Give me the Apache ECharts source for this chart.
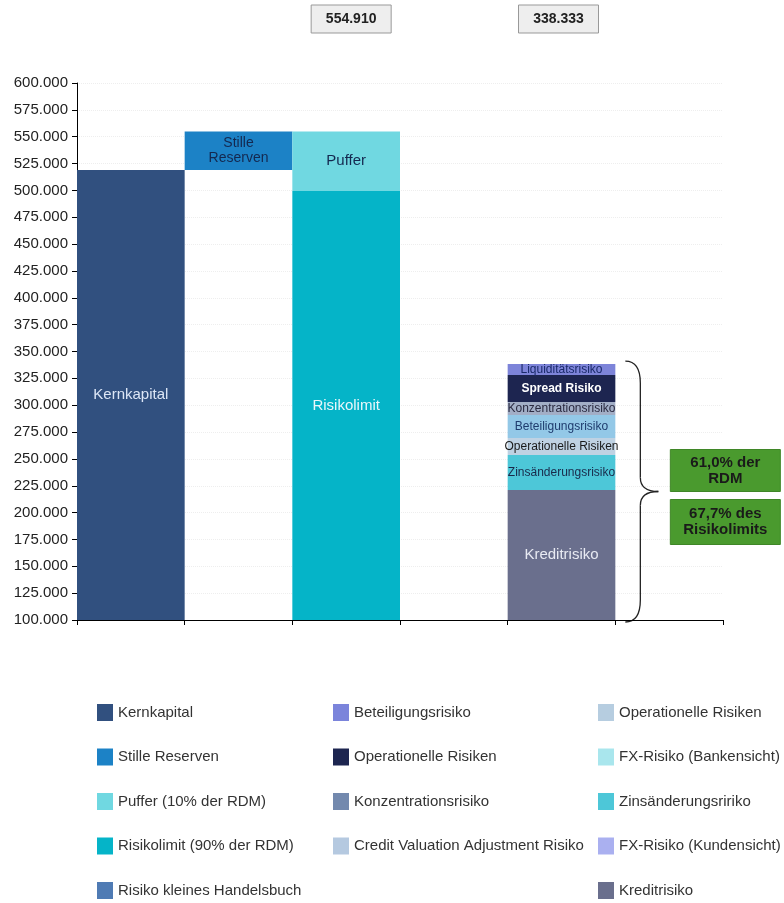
<!DOCTYPE html>
<html>
<head>
<meta charset="utf-8">
<script src="https://cdn.jsdelivr.net/npm/echarts@6/dist/echarts.min.js"></script>
<style>
html,body{margin:0;padding:0;background:#fff;}
#chart{width:784px;height:903px;}
</style>
</head>
<body>
<div id="chart"></div>
<script>
// ---- data ----
const categories = ['Kernkapital', 'Stille Reserven', 'RDM', 'Leer 1', 'Risiko', 'Leer 2'];
const yTicks = { min: 100000, max: 600000, interval: 25000 };

const kernkapital = 519000;
const stilleReserven = 35910;
const risikolimit = 499419;
const puffer = 55491;

// stacked risk bar (bottom to top)
const riskSeriesNames = ['Kreditrisiko', 'Zinsänderungsririko', 'Operationelle Risiken', 'Beteiligungsrisiko', 'Konzentrationsrisiko', 'Operationelle Risiken\u200b', 'Liquiditätsrisiko'];
const riskValues = [221000, 32600, 15900, 21400, 12100, 25100, 10233];
const riskLabels = ['Kreditrisiko', 'Zinsänderungsrisiko', 'Operationelle Risiken', 'Beteiligungsrisiko', 'Konzentrationsrisiko', 'Spread Risiko', 'Liquiditätsrisiko'];

const emptySeriesNames = ['Risiko kleines Handelsbuch', 'Credit Valuation Adjustment Risiko', 'FX-Risiko (Bankensicht)', 'FX-Risiko (Kundensicht)'];

const legendCol1 = ['Kernkapital', 'Stille Reserven', 'Puffer (10% der RDM)', 'Risikolimit (90% der RDM)', 'Risiko kleines Handelsbuch'];
const legendCol2 = ['Beteiligungsrisiko', 'Operationelle Risiken\u200b', 'Konzentrationsrisiko', 'Credit Valuation Adjustment Risiko'];
const legendCol3 = ['Operationelle Risiken', 'FX-Risiko (Bankensicht)', 'Zinsänderungsririko', 'FX-Risiko (Kundensicht)', 'Kreditrisiko'];

// ---- styles ----
const seriesColors = {
  'Kernkapital': '#31507f',
  'Stille Reserven': '#1c82c6',
  'Puffer (10% der RDM)': '#70d8e1',
  'Risikolimit (90% der RDM)': '#05b4c8',
  'Risiko kleines Handelsbuch': '#4f7bb4',
  'Beteiligungsrisiko': '#7b84db',
  'Operationelle Risiken\u200b': '#1d2550',
  'Konzentrationsrisiko': '#7389ae',
  'Credit Valuation Adjustment Risiko': '#b5c9e0',
  'Operationelle Risiken': '#b6cde0',
  'FX-Risiko (Bankensicht)': '#a9e6ed',
  'Zinsänderungsririko': '#4dc7d8',
  'FX-Risiko (Kundensicht)': '#aab0f0',
  'Kreditrisiko': '#6a6f8d',
  'Liquiditätsrisiko': '#7d84d9'
};
const segmentColors = ['#6a6f8d', '#4dc7d8', '#bfd2e3', '#93c8e7', '#a2aec6', '#1d2550', '#7d84d9'];
const segmentLabelStyle = [
  { color: '#e8eaf2', fontSize: 15 },
  { color: '#1a2a4a', fontSize: 12 },
  { color: '#1a1a1a', fontSize: 12 },
  { color: '#1f3c6e', fontSize: 12 },
  { color: '#2a2a40', fontSize: 12 },
  { color: '#ffffff', fontSize: 12, fontWeight: 'bold' },
  { color: '#1a2a6a', fontSize: 12 }
];

const FONT = '"Liberation Sans", Arial, sans-serif';

function at(idx, v) {
  return categories.map((c, i) => (i === idx ? v : '-'));
}

function barSeries(name, data, label, extra) {
  return Object.assign({
    name: name,
    type: 'bar',
    stack: 'all',
    barCategoryGap: 0,
    barGap: 0,
    data: data,
    itemStyle: { color: seriesColors[name] || '#999' },
    label: label ? Object.assign({ show: true, position: 'inside', fontFamily: FONT }, label) : { show: false },
    emphasis: { disabled: true }
  }, extra || {});
}

const series = [];
series.push(barSeries('__base', at(1, kernkapital), null, { itemStyle: { color: 'transparent' }, silent: true }));
series.push(barSeries('Kernkapital', at(0, kernkapital), { formatter: 'Kernkapital', color: '#dce6f6', fontSize: 15 }));
series.push(barSeries('Stille Reserven', at(1, stilleReserven), { formatter: 'Stille\nReserven', color: '#14284f', fontSize: 14, lineHeight: 15 }));
series.push(barSeries('Risikolimit (90% der RDM)', at(2, risikolimit), { formatter: 'Risikolimit', color: '#eaf7fb', fontSize: 15 }));
series.push(barSeries('Puffer (10% der RDM)', at(2, puffer), { formatter: 'Puffer', color: '#14284f', fontSize: 15 }));
riskSeriesNames.forEach((n, i) => {
  const d = at(4, { value: riskValues[i], itemStyle: { color: segmentColors[i] } });
  series.push(barSeries(n, d, Object.assign({ formatter: riskLabels[i] }, segmentLabelStyle[i])));
});
emptySeriesNames.forEach(n => series.push(barSeries(n, at(4, '-'), null)));

function legendCol(names, left) {
  return {
    data: names.map(n => ({ name: n, icon: 'rect' })),
    orient: 'vertical',
    left: left,
    top: 704,
    height: 199,
    padding: 0,
    itemWidth: 16,
    itemHeight: 17,
    itemGap: 27.5,
    selectedMode: false,
    textStyle: { fontFamily: FONT, fontSize: 15, color: '#333' }
  };
}

const fmt = v => String(Math.round(v)).replace(/\B(?=(\d{3})+(?!\d))/g, '.');

const chart = echarts.init(document.getElementById('chart'), null, { renderer: 'canvas' });
chart.setOption({
  animation: false,
  backgroundColor: '#ffffff',
  grid: { left: 77, right: 61, top: 83, bottom: 283, containLabel: false },
  xAxis: {
    type: 'category',
    data: categories,
    axisLine: { lineStyle: { color: '#000', width: 1 } },
    axisTick: { show: true, length: 5, lineStyle: { color: '#000' } },
    axisLabel: { show: false },
    splitLine: { show: false }
  },
  yAxis: {
    type: 'value',
    min: yTicks.min,
    max: yTicks.max,
    interval: yTicks.interval,
    axisLine: { show: true, lineStyle: { color: '#000', width: 1 } },
    axisTick: { show: true, length: 5, lineStyle: { color: '#000' } },
    axisLabel: { fontFamily: FONT, fontSize: 15, color: '#222', margin: 9, formatter: v => fmt(v) },
    splitLine: { show: true, lineStyle: { color: '#eeeeee', type: 'dotted' } }
  },
  legend: [legendCol(legendCol1, 97), legendCol(legendCol2, 333), legendCol(legendCol3, 598)],
  series: series
});

// ---- annotations ----
const totalCap = kernkapital + stilleReserven;
const totalRDM = risikolimit + puffer;
const totalRisk = riskValues.reduce((a, b) => a + b, 0);
const pctRDM = (totalRisk / totalRDM * 100).toFixed(1).replace('.', ',');
const pctLimit = (totalRisk / risikolimit * 100).toFixed(1).replace('.', ',');

const xRDM = chart.convertToPixel({ xAxisIndex: 0 }, 2);
const xRisk = chart.convertToPixel({ xAxisIndex: 0 }, 4);
const catW = chart.convertToPixel({ xAxisIndex: 0 }, 5) - xRisk;
const yTop = chart.convertToPixel({ yAxisIndex: 0 }, totalRisk);
const yBot = chart.convertToPixel({ yAxisIndex: 0 }, yTicks.min);

function valueBox(cx, text) {
  return {
    type: 'group',
    children: [
      { type: 'rect', shape: { x: cx - 40, y: 5, width: 80, height: 28 }, style: { fill: '#eeeeee', stroke: '#999', lineWidth: 1 } },
      { type: 'text', style: { x: cx, y: 19, text: text, textAlign: 'center', textVerticalAlign: 'middle', font: 'bold 14px ' + FONT, fill: '#222' } }
    ]
  };
}

const x0 = xRisk + catW / 2 + 10;
const yT = yTop - 3;
const yB = yBot + 2;
const yM = (yT + yB) / 2;
const xv = x0 + 15;
const xt = x0 + 33;
const braceStyle = { fill: 'none', stroke: '#222', lineWidth: 1.3 };
const brace = [
  { type: 'bezierCurve', shape: { x1: x0, y1: yT, x2: xv, y2: yT + 22, cpx1: xv, cpy1: yT }, style: braceStyle },
  { type: 'line', shape: { x1: xv, y1: yT + 22, x2: xv, y2: yM - 14 }, style: braceStyle },
  { type: 'bezierCurve', shape: { x1: xv, y1: yM - 14, x2: xt, y2: yM, cpx1: xv, cpy1: yM }, style: braceStyle },
  { type: 'bezierCurve', shape: { x1: xt, y1: yM, x2: xv, y2: yM + 14, cpx1: xv, cpy1: yM }, style: braceStyle },
  { type: 'line', shape: { x1: xv, y1: yM + 14, x2: xv, y2: yB - 22 }, style: braceStyle },
  { type: 'bezierCurve', shape: { x1: xv, y1: yB - 22, x2: x0, y2: yB, cpx1: xv, cpy1: yB }, style: braceStyle }
];

function greenBox(y, h, text) {
  const bx = xt + 12;
  return {
    type: 'group',
    children: [
      { type: 'rect', shape: { x: bx, y: y, width: 110, height: h }, style: { fill: '#4a9a2e', stroke: '#3f8627', lineWidth: 1 } },
      { type: 'text', style: { x: bx + 55, y: y + h / 2, text: text, textAlign: 'center', textVerticalAlign: 'middle', font: 'bold 15px ' + FONT, fill: '#1a1a1a', lineHeight: 16 } }
    ]
  };
}

chart.setOption({
  graphic: [
    valueBox(xRDM + 5, fmt(totalCap)),
    valueBox(xRisk - 3, fmt(totalRisk))
  ].concat(brace).concat([
    greenBox(yM - 42, 42, pctRDM + '% der\nRDM'),
    greenBox(yM + 8, 45, pctLimit + '% des\nRisikolimits')
  ])
});
</script>
</body>
</html>
